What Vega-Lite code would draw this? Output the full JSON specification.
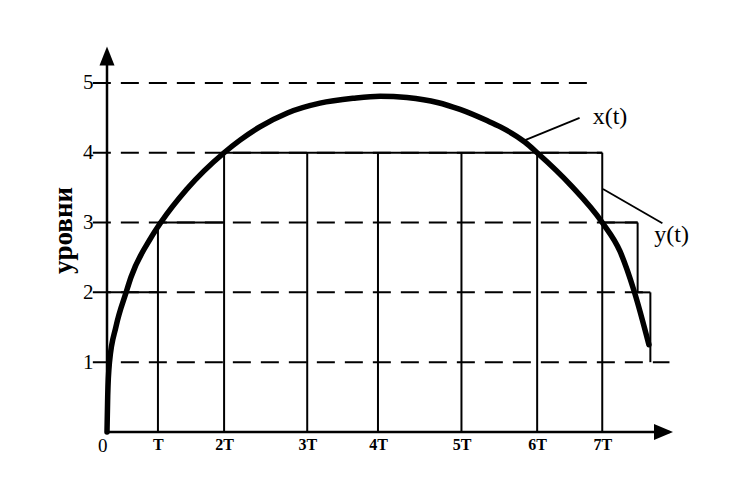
{
  "$schema": "https://vega.github.io/schema/vega-lite/v6.json",
  "width": 566,
  "height": 384,
  "autosize": "none",
  "padding": {"left": 107, "top": 48, "right": 70, "bottom": 70},
  "background": "white",
  "config": {"view": {"stroke": null}},
  "layer": [
    {
      "data": {"values": [
        {"level": 1, "from": -0.2, "to": 7.95},
        {"level": 2, "from": -0.2, "to": 7.68},
        {"level": 3, "from": -0.2, "to": 7.5},
        {"level": 4, "from": -0.2, "to": 7.0},
        {"level": 5, "from": -0.2, "to": 6.87}
      ]},
      "mark": {"type": "rule", "color": "black", "strokeWidth": 2, "strokeDash": [18, 10]},
      "encoding": {
        "x": {"field": "from", "type": "quantitative",
          "scale": {"domain": [0, 8], "nice": false, "zero": false},
          "axis": {
            "title": null, "domain": false, "ticks": false, "grid": false,
            "values": [0, 0.72, 1.655, 2.83, 3.83, 5.01, 6.08, 7.0],
            "labelExpr": "datum.value == 0 ? '0' : datum.value < 1 ? 'T' : datum.value < 2 ? '2T' : datum.value < 3 ? '3T' : datum.value < 4 ? '4T' : datum.value < 5.5 ? '5T' : datum.value < 6.5 ? '6T' : '7T'",
            "labelFont": "Liberation Serif",
            "labelColor": "black",
            "labelFontSize": {"condition": {"test": "datum.value == 0", "value": 19}, "value": 16},
            "labelFontWeight": {"condition": {"test": "datum.value == 0", "value": "normal"}, "value": "bold"},
            "labelAlign": {"condition": {"test": "datum.value == 0", "value": "right"}, "value": "center"},
            "labelPadding": 4,
            "labelFlush": false,
            "labelOverlap": false,
            "labelBound": false
          }
        },
        "x2": {"field": "to"},
        "y": {"field": "level", "type": "quantitative",
          "scale": {"domain": [0, 5.5], "nice": false, "zero": false},
          "axis": {
            "title": "уровни", "domain": false, "ticks": false, "grid": false,
            "values": [1, 2, 3, 4, 5], "format": "d",
            "labelFont": "Liberation Serif", "labelFontSize": 21, "labelColor": "black",
            "labelPadding": 14,
            "titleFont": "Liberation Serif", "titleFontSize": 27, "titleFontWeight": "bold",
            "titleColor": "black", "titleAngle": 270, "titleAlign": "center", "titleBaseline": "middle",
            "titleX": -44, "titleY": 182
          }
        }
      }
    },
    {
      "data": {"values": [
        {"a": 0, "b": 0.72, "c": 2, "d": 2},
        {"a": 0.72, "b": 1.655, "c": 3, "d": 3},
        {"a": 1.655, "b": 7.0, "c": 4, "d": 4},
        {"a": 7.0, "b": 7.5, "c": 3, "d": 3},
        {"a": 7.5, "b": 7.68, "c": 2, "d": 2},
        {"a": 0.72, "b": 0.72, "c": 0, "d": 3},
        {"a": 1.655, "b": 1.655, "c": 0, "d": 4},
        {"a": 2.83, "b": 2.83, "c": 0, "d": 4},
        {"a": 3.83, "b": 3.83, "c": 0, "d": 4},
        {"a": 5.01, "b": 5.01, "c": 0, "d": 4},
        {"a": 6.08, "b": 6.08, "c": 0, "d": 4},
        {"a": 7.0, "b": 7.0, "c": 0, "d": 4},
        {"a": 7.5, "b": 7.5, "c": 2, "d": 3},
        {"a": 7.68, "b": 7.68, "c": 1, "d": 2}
      ]},
      "mark": {"type": "rule", "color": "black", "strokeWidth": 2},
      "encoding": {
        "x": {"field": "a", "type": "quantitative"},
        "x2": {"field": "b"},
        "y": {"field": "c", "type": "quantitative"},
        "y2": {"field": "d"}
      }
    },
    {
      "data": {"values": [
        {"a": 0, "b": 7.95, "c": 0, "d": 0},
        {"a": 0, "b": 0, "c": 0, "d": 5.3}
      ]},
      "mark": {"type": "rule", "color": "black", "strokeWidth": 2.5},
      "encoding": {
        "x": {"field": "a", "type": "quantitative"},
        "x2": {"field": "b"},
        "y": {"field": "c", "type": "quantitative"},
        "y2": {"field": "d"}
      }
    },
    {
      "data": {"values": [{"t": 0, "v": 5.52}]},
      "mark": {"type": "point", "filled": true, "color": "black", "opacity": 1, "size": 400,
        "shape": "M0,0 L-0.75,1.9 L0.75,1.9 Z"},
      "encoding": {
        "x": {"field": "t", "type": "quantitative"},
        "y": {"field": "v", "type": "quantitative"}
      }
    },
    {
      "data": {"values": [{"t": 8.0, "v": 0}]},
      "mark": {"type": "point", "filled": true, "color": "black", "opacity": 1, "size": 400,
        "shape": "M0,0 L-1.9,-0.8 L-1.9,0.8 Z"},
      "encoding": {
        "x": {"field": "t", "type": "quantitative"},
        "y": {"field": "v", "type": "quantitative"}
      }
    },
    {
      "data": {"values": [
        {"t": 0, "v": 0},
        {"t": 0.01, "v": 0.52},
        {"t": 0.035, "v": 1.0},
        {"t": 0.127, "v": 1.51},
        {"t": 0.27, "v": 2.0},
        {"t": 0.34, "v": 2.22},
        {"t": 0.62, "v": 2.78},
        {"t": 0.76, "v": 3.0},
        {"t": 1.13, "v": 3.48},
        {"t": 1.655, "v": 4.0},
        {"t": 1.88, "v": 4.18},
        {"t": 2.16, "v": 4.37},
        {"t": 2.55, "v": 4.57},
        {"t": 3.01, "v": 4.71},
        {"t": 3.48, "v": 4.78},
        {"t": 3.86, "v": 4.81},
        {"t": 4.24, "v": 4.79},
        {"t": 4.67, "v": 4.72},
        {"t": 4.99, "v": 4.62},
        {"t": 5.37, "v": 4.46},
        {"t": 5.56, "v": 4.37},
        {"t": 5.91, "v": 4.15},
        {"t": 6.08, "v": 4.0},
        {"t": 6.55, "v": 3.54},
        {"t": 7.0, "v": 3.0},
        {"t": 7.25, "v": 2.59},
        {"t": 7.45, "v": 2.02},
        {"t": 7.66, "v": 1.25}
      ]},
      "mark": {"type": "line", "color": "black", "strokeWidth": 5.5, "interpolate": "monotone", "strokeCap": "round"},
      "encoding": {
        "x": {"field": "t", "type": "quantitative"},
        "y": {"field": "v", "type": "quantitative"}
      }
    },
    {
      "data": {"values": [
        {"a": 5.91, "b": 6.68, "c": 4.18, "d": 4.5},
        {"a": 7.01, "b": 7.85, "c": 3.48, "d": 2.99}
      ]},
      "mark": {"type": "rule", "color": "black", "strokeWidth": 1.8},
      "encoding": {
        "x": {"field": "a", "type": "quantitative"},
        "x2": {"field": "b"},
        "y": {"field": "c", "type": "quantitative"},
        "y2": {"field": "d"}
      }
    },
    {
      "data": {"values": [
        {"t": 7.11, "v": 4.51, "label": "x(t)"},
        {"t": 7.98, "v": 2.82, "label": "y(t)"}
      ]},
      "mark": {"type": "text", "font": "Liberation Serif", "fontSize": 24, "color": "black", "align": "center", "baseline": "middle"},
      "encoding": {
        "x": {"field": "t", "type": "quantitative"},
        "y": {"field": "v", "type": "quantitative"},
        "text": {"field": "label"}
      }
    }
  ]
}
